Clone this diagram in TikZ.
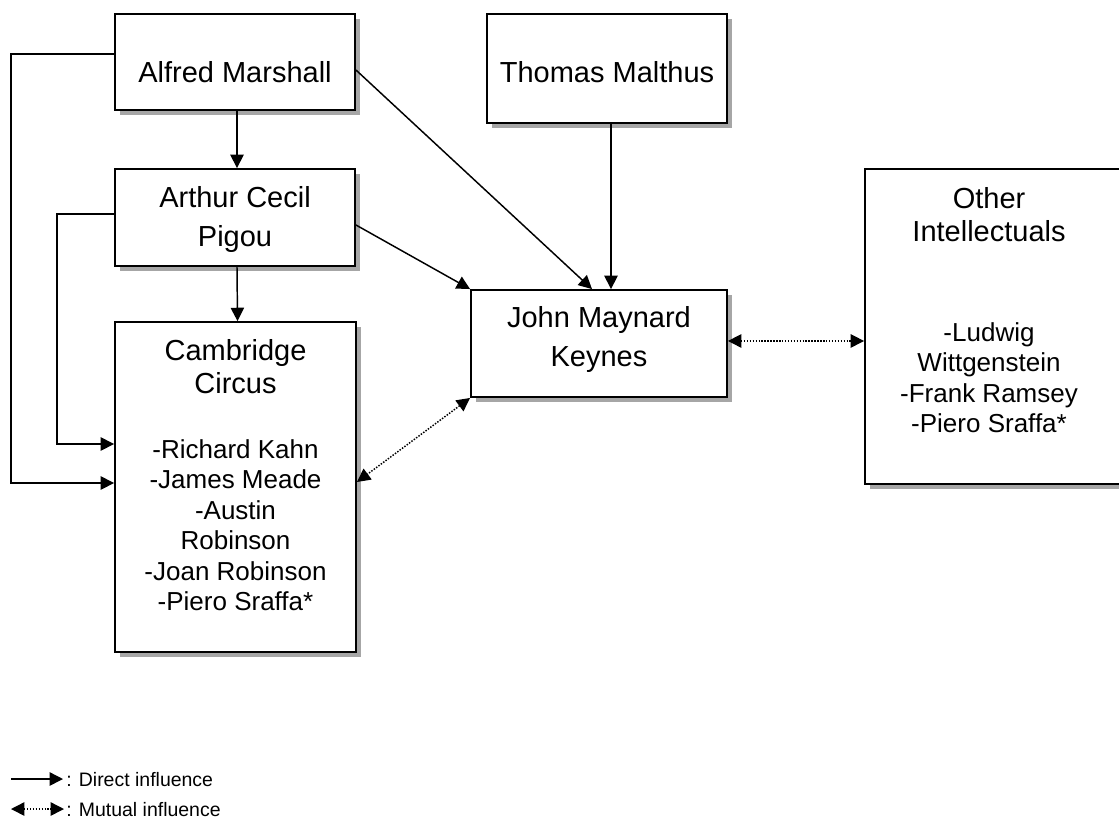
\documentclass[tikz,border=0pt]{standalone}
\usepackage{fontspec}
\setmainfont{Liberation Sans}
\usetikzlibrary{arrows.meta,shadows}
\begin{document}
\begin{tikzpicture}[x=0.75pt,y=-0.75pt,
  box/.style={draw, line width=1.4pt, fill=white, inner sep=0pt,
    drop shadow={shadow xshift=3.75pt, shadow yshift=-3.75pt, fill=gray!70, opacity=1}},
  hd/.style={anchor=base, inner sep=0pt, font=\fontsize{21.75pt}{26pt}\selectfont},
  ls/.style={anchor=base, inner sep=0pt, font=\fontsize{19.5pt}{23pt}\selectfont},
  lg/.style={anchor=base west, inner sep=0pt, font=\fontsize{14.6pt}{17pt}\selectfont},
  arr/.style={line width=1.1pt, -{Triangle[length=10pt,width=10pt]}},
  mut/.style={line width=1.1pt, dash pattern=on 1.1pt off 1.1pt,
    {Triangle[length=10pt,width=10pt]}-{Triangle[length=10pt,width=10pt]}}
]
\useasboundingbox (0,0) rectangle (1119,832);

% boxes
\node[box, minimum width=180pt, minimum height=72pt] (marshall) at (235,62) {};
\node[box, minimum width=180pt, minimum height=81.75pt] (malthus) at (607,68.5) {};
\node[box, minimum width=180pt, minimum height=72.75pt] (pigou) at (235,217.5) {};
\node[box, minimum width=180.75pt, minimum height=247.5pt] (cambridge) at (235.5,487) {};
\node[box, minimum width=192pt, minimum height=80.25pt] (keynes) at (599,343.5) {};
\node[box, minimum width=192.75pt, minimum height=236.25pt] (other) at (993.5,326.5) {};

% texts
\node[hd] (tmarshall) at (235,82) {Alfred Marshall};
\node[hd] (tmalthus) at (607,82) {Thomas Malthus};
\node[hd] (tpigou1) at (235,207) {Arthur Cecil};
\node[hd] (tpigou2) at (235,246) {Pigou};
\node[hd] (tcam1) at (235.5,360) {Cambridge};
\node[hd] (tcam2) at (235.5,393) {Circus};
\node[ls] (tc1) at (235.5,458) {-Richard Kahn};
\node[ls] (tc2) at (235.5,488.5) {-James Meade};
\node[ls] (tc3) at (235.5,519) {-Austin};
\node[ls] (tc4) at (235.5,549.5) {Robinson};
\node[ls] (tc5) at (235.5,580) {-Joan Robinson};
\node[ls] (tc6) at (235.5,610.5) {-Piero Sraffa*};
\node[hd] (tkey1) at (599,327) {John Maynard};
\node[hd] (tkey2) at (599,366) {Keynes};
\node[hd] (toth1) at (989,208) {Other};
\node[hd] (toth2) at (989,241) {Intellectuals};
\node[ls] (to1) at (989,341) {-Ludwig};
\node[ls] (to2) at (989,371.5) {Wittgenstein};
\node[ls] (to3) at (989,402) {-Frank Ramsey};
\node[ls] (to4) at (989,432.5) {-Piero Sraffa*};

% connectors
\draw[arr] ([xshift=1.5pt]marshall.south) -- ([xshift=1.5pt]pigou.north);
\draw[arr] ([xshift=1.5pt]pigou.south) -- ([xshift=1.5pt]cambridge.north);
\coordinate (lm) at (11,483);
\draw[arr] ([yshift=6pt]marshall.west) -| (lm) -- (lm -| cambridge.west);
\coordinate (lp) at (57,444);
\draw[arr] ([yshift=2.6pt]pigou.west) -| (lp) -- (lp -| cambridge.west);
\draw[arr] ([yshift=-6pt]marshall.east) -- ([xshift=-5.25pt]keynes.north);
\draw[arr] ([xshift=3pt]malthus.south) -- ([xshift=3pt]malthus.south |- keynes.north);
\draw[arr] ([yshift=-5.6pt]pigou.east) -- (keynes.north west);
\draw[mut] (keynes.south west) -- ([yshift=3.75pt]cambridge.east);
\draw[mut] ([yshift=1.9pt]keynes.east) -- ([yshift=1.9pt]keynes.east -| other.west);

% legend
\coordinate (d1) at (11,779);
\coordinate (d2) at (63,779);
\draw[arr] (d1) -- (d2);
\node[lg] (ld) at (66,786) {: Direct influence};
\coordinate (m1) at (11,809);
\coordinate (m2) at (64,809);
\draw[mut] (m1) -- (m2);
\node[lg] (lmu) at (66,816) {: Mutual influence};
\end{tikzpicture}
\end{document}
